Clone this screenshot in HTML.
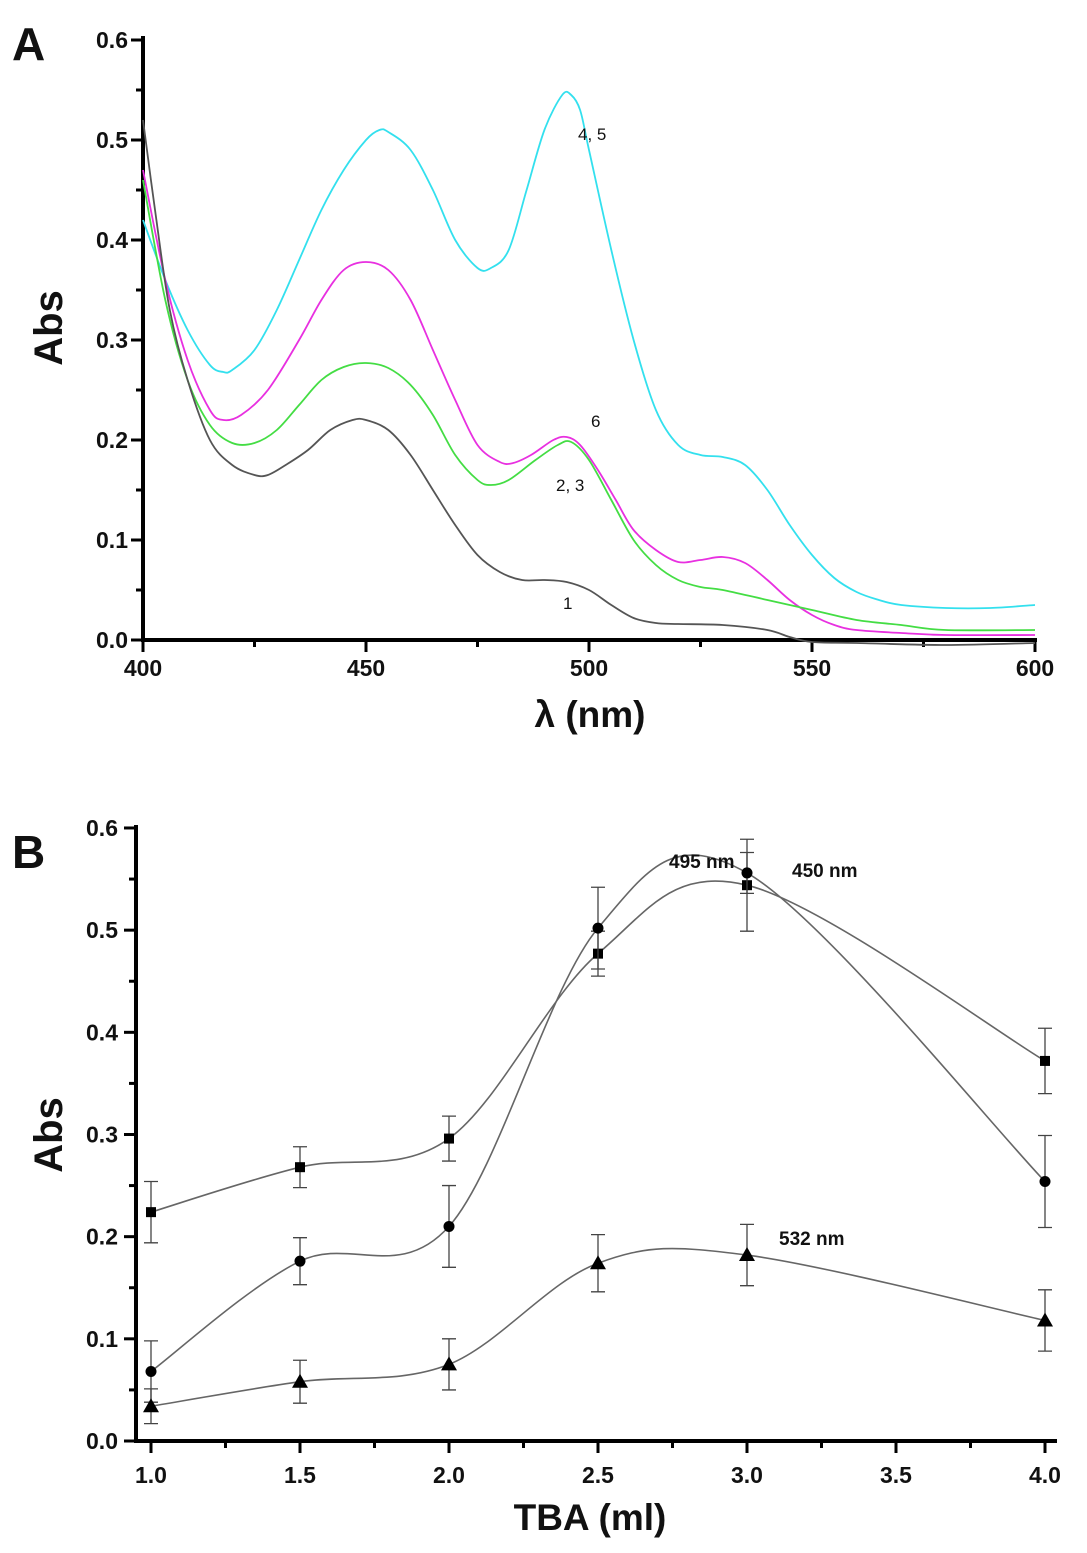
<!DOCTYPE html>
<html><head><meta charset="utf-8"><style>
body{margin:0;background:#fff}
svg text{font-family:"Liberation Sans",Arial,sans-serif;font-weight:bold;fill:#111}
</style></head><body>
<svg id="chart" width="1087" height="1548" viewBox="0 0 1087 1548" xmlns="http://www.w3.org/2000/svg">
<text x="12" y="60" font-size="46">A</text>
<text x="12" y="868" font-size="46">B</text>
<g id="pa"></g>
<g id="pb"></g>
</svg>
<script>
// ---- Panel A data ----
const waves1 = [400,403,406,410,415,420,425,428,432,437,442,447,450,455,460,465,470,475,480,485,490,495,500,505,510,515,520,530,540,545,550,560,580,600];
const abs1 = [0.52,0.42,0.33,0.26,0.2,0.175,0.165,0.165,0.175,0.19,0.21,0.22,0.22,0.21,0.185,0.15,0.115,0.085,0.068,0.06,0.06,0.058,0.05,0.035,0.022,0.017,0.016,0.015,0.01,0.003,-0.002,-0.003,-0.005,-0.003];
const waves23 = [400,405,410,415,420,425,430,435,440,445,450,455,460,465,470,475,478,482,488,493,496,500,505,510,515,520,525,530,540,550,560,570,580,600];
const abs23 = [0.46,0.34,0.26,0.215,0.197,0.197,0.21,0.235,0.26,0.273,0.277,0.272,0.255,0.225,0.185,0.16,0.155,0.16,0.18,0.195,0.198,0.18,0.14,0.1,0.075,0.06,0.053,0.05,0.04,0.03,0.02,0.015,0.01,0.01];
const waves6 = [400,405,410,415,418,422,428,435,440,445,450,455,460,465,470,475,480,483,487,492,495,498,502,506,510,515,520,525,530,535,540,545,550,555,560,570,580,600];
const abs6 = [0.47,0.36,0.28,0.23,0.22,0.225,0.25,0.3,0.34,0.37,0.378,0.37,0.34,0.29,0.24,0.195,0.178,0.177,0.185,0.2,0.203,0.195,0.17,0.14,0.11,0.09,0.078,0.08,0.083,0.077,0.06,0.04,0.025,0.015,0.01,0.007,0.005,0.005];
const waves45 = [400,405,410,415,418,420,425,430,435,440,445,450,453,455,460,465,470,475,478,482,486,490,494,496,498,500,505,510,515,520,525,530,535,540,545,550,555,560,565,570,580,590,600];
const abs45 = [0.42,0.36,0.31,0.275,0.268,0.27,0.29,0.33,0.38,0.43,0.47,0.5,0.51,0.508,0.49,0.45,0.4,0.372,0.372,0.39,0.45,0.51,0.545,0.545,0.53,0.49,0.39,0.3,0.23,0.195,0.185,0.183,0.175,0.15,0.115,0.085,0.062,0.048,0.04,0.035,0.032,0.032,0.035];
const aXTicks = [400,450,500,550,600];
const aYTicks = [0.0,0.1,0.2,0.3,0.4,0.5,0.6];
// ---- Panel B data ----
const tba = [1.0,1.5,2.0,2.5,3.0,4.0];
const abs450 = [0.224,0.268,0.296,0.477,0.544,0.372];
const err450 = [0.03,0.02,0.022,0.022,0.045,0.032];
const abs495 = [0.068,0.176,0.21,0.502,0.556,0.254];
const err495 = [0.03,0.023,0.04,0.04,0.02,0.045];
const abs532 = [0.034,0.058,0.075,0.174,0.182,0.118];
const err532 = [0.017,0.021,0.025,0.028,0.03,0.03];
const bXTicks = [1.0,1.5,2.0,2.5,3.0,3.5,4.0];
const bYTicks = [0.0,0.1,0.2,0.3,0.4,0.5,0.6];

const NS="http://www.w3.org/2000/svg";
function mk(parent,tag,attrs){const e=document.createElementNS(NS,tag);for(const k in attrs)e.setAttribute(k,attrs[k]);parent.appendChild(e);return e;}
const ax=x=>143+(x-400)*892/200, ay=y=>640-y*1000;
const bx=x=>151+(x-1)*298, by=y=>1441-y*1021.7;
function spline(pts){let d='M'+pts[0].join(',');
for(let i=0;i<pts.length-1;i++){const p0=pts[i-1]||pts[i],p1=pts[i],p2=pts[i+1],p3=pts[i+2]||p2;const t=6;
d+=` C${(p1[0]+(p2[0]-p0[0])/t).toFixed(1)},${(p1[1]+(p2[1]-p0[1])/t).toFixed(1)} ${(p2[0]-(p3[0]-p1[0])/t).toFixed(1)},${(p2[1]-(p3[1]-p1[1])/t).toFixed(1)} ${p2[0].toFixed(1)},${p2[1].toFixed(1)}`;}return d;}

// Panel A axes
const pa=document.getElementById('pa');
let e=mk(pa,'path',{d:`M143,36 V640 H1037`,stroke:'#000','stroke-width':4,fill:'none'});


for(let v=400;v<=600;v+=25){const maj=v%50===0;mk(pa,'line',{x1:ax(v),x2:ax(v),y1:640,y2:640+(maj?12:7),stroke:'#000','stroke-width':3});}
for(let i=0;i<=12;i++){const v=i*0.05;mk(pa,'line',{x1:143,x2:143-(i%2?7:12),y1:ay(v),y2:ay(v),stroke:'#000','stroke-width':3});}
aXTicks.forEach(v=>{const t=mk(pa,'text',{x:ax(v),y:676,'font-size':23,'text-anchor':'middle'});t.textContent=v;

});
aYTicks.forEach(v=>{const t=mk(pa,'text',{x:128,y:ay(v)+8,'font-size':23,'text-anchor':'end'});t.textContent=v.toFixed(1);

});
e=mk(pa,'text',{x:590,y:727,'font-size':37,'text-anchor':'middle'});e.textContent='λ (nm)';


e=mk(pa,'text',{x:0,y:0,'font-size':40,'text-anchor':'middle',transform:'translate(62,328) rotate(-90)'});e.textContent='Abs';


function spec(xs,ys,col,name){const d=spline(xs.map((x,i)=>[ax(x),ay(ys[i])]));
const p=mk(pa,'path',{d,stroke:col,'stroke-width':1.8,fill:'none'});

}
spec(waves45,abs45,'#33e0ee','spectrum-4-5');
spec(waves6,abs6,'#e830e0','spectrum-6');
spec(waves23,abs23,'#44dd44','spectrum-2-3');
spec(waves1,abs1,'#555','spectrum-1');
[['4, 5',578,140],['6',591,427],['2, 3',556,491],['1',563,609]].forEach(([s,x,y])=>{const t=mk(pa,'text',{x,y,'font-size':17,style:'font-weight:normal'});t.textContent=s;

});

// Panel B
const pb=document.getElementById('pb');
e=mk(pb,'path',{d:`M136,825 V1441 H1057`,stroke:'#000','stroke-width':4,fill:'none'});


for(let v=1.0;v<=4.001;v+=0.25){const maj=Math.abs(v*2-Math.round(v*2))<1e-6;mk(pb,'line',{x1:bx(v),x2:bx(v),y1:1441,y2:1441+(maj?12:7),stroke:'#000','stroke-width':3});}
for(let i=0;i<=12;i++){const v=i*0.05;mk(pb,'line',{x1:136,x2:136-(i%2?7:12),y1:by(v),y2:by(v),stroke:'#000','stroke-width':3});}
bXTicks.forEach(v=>{const t=mk(pb,'text',{x:bx(v),y:1483,'font-size':23,'text-anchor':'middle'});t.textContent=v.toFixed(1);

});
bYTicks.forEach(v=>{const t=mk(pb,'text',{x:118,y:by(v)+8,'font-size':23,'text-anchor':'end'});t.textContent=v.toFixed(1);

});
e=mk(pb,'text',{x:590,y:1530,'font-size':37,'text-anchor':'middle'});e.textContent='TBA (ml)';


e=mk(pb,'text',{x:0,y:0,'font-size':40,'text-anchor':'middle',transform:'translate(62,1135) rotate(-90)'});e.textContent='Abs';


function series(ys,errs,shape,name){
const pts=tba.map((x,i)=>[bx(x),by(ys[i])]);
const p=mk(pb,'path',{d:spline(pts),stroke:'#666','stroke-width':1.6,fill:'none'});


tba.forEach((x,i)=>{const X=bx(x),Y=by(ys[i]),t=by(ys[i]+errs[i]),b=by(ys[i]-errs[i]);
const eb=mk(pb,'path',{d:`M${X},${t} V${b} M${X-7},${t} H${X+7} M${X-7},${b} H${X+7}`,stroke:'#444','stroke-width':1.3,fill:'none'});


let m;
if(shape==='sq')m=mk(pb,'rect',{x:X-5,y:Y-5,width:10,height:10,fill:'#000'});
else if(shape==='ci')m=mk(pb,'circle',{cx:X,cy:Y,r:5.5,fill:'#000'});
else m=mk(pb,'path',{d:`M${X},${Y-8} L${X+8},${Y+6} L${X-8},${Y+6} Z`,fill:'#000'});

});}
series(abs450,err450,'sq','series-450nm');
series(abs495,err495,'ci','series-495nm');
series(abs532,err532,'tr','series-532nm');
[['495 nm',669,868],['450 nm',792,877],['532 nm',779,1245]].forEach(([s,x,y])=>{const t=mk(pb,'text',{x,y,'font-size':19});t.textContent=s;

});
</script>
</body></html>
